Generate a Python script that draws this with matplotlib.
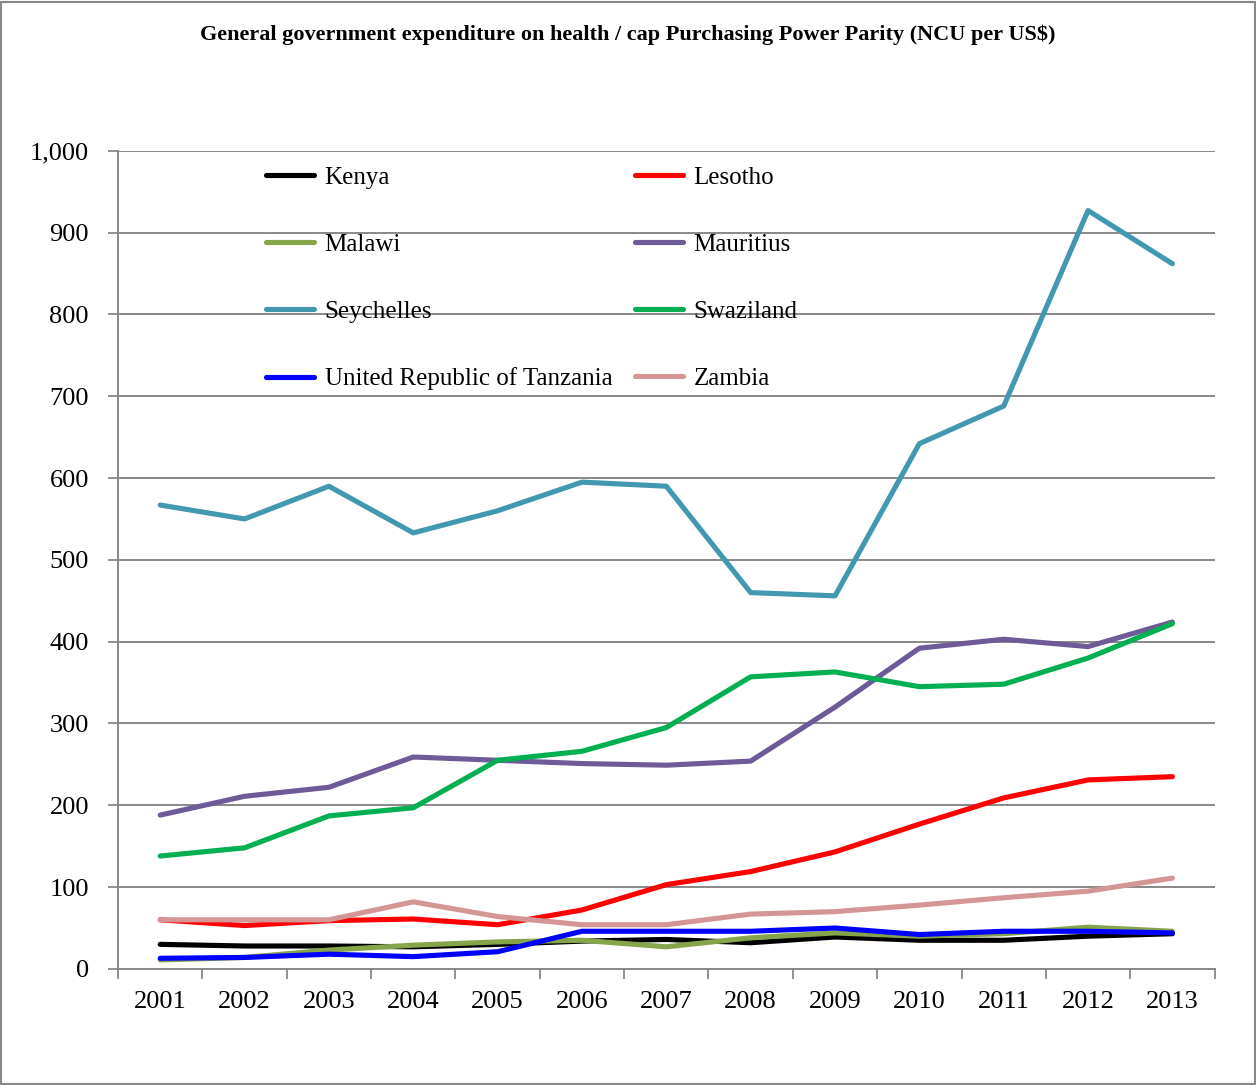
import matplotlib.pyplot as plt
from matplotlib.patches import Rectangle
from matplotlib.ticker import FuncFormatter, MultipleLocator
import numpy as np

plt.rcParams['font.family'] = ['Liberation Serif', 'DejaVu Serif']

years = [2001, 2002, 2003, 2004, 2005, 2006, 2007, 2008, 2009, 2010, 2011, 2012, 2013]

kenya = [30, 28, 28, 27, 30, 34, 36, 32, 39, 35, 35, 40, 43]
lesotho = [60, 53, 59, 61, 54, 72, 103, 119, 143, 177, 209, 231, 235]
malawi = [11, 14, 23, 29, 33, 35, 27, 38, 44, 40, 43, 51, 46]
mauritius = [188, 211, 222, 259, 255, 251, 249, 254, 320, 392, 403, 394, 424]
seychelles = [567, 550, 590, 533, 560, 595, 590, 460, 456, 642, 688, 927, 862]
swaziland = [138, 148, 187, 197, 255, 266, 295, 357, 363, 345, 348, 380, 422]
tanzania = [13, 14, 18, 15, 21, 46, 46, 46, 50, 42, 46, 46, 44]
zambia = [60, 60, 60, 82, 64, 54, 54, 67, 70, 78, 87, 95, 111]

series = [
    ('Kenya', kenya, '#000000'),
    ('Lesotho', lesotho, '#FF0000'),
    ('Malawi', malawi, '#86A44A'),
    ('Mauritius', mauritius, '#6E5A96'),
    ('Seychelles', seychelles, '#4298AF'),
    ('Swaziland', swaziland, '#00B050'),
    ('United Republic of Tanzania', tanzania, '#0000FF'),
    ('Zambia', zambia, '#D49694'),
]

fig = plt.figure(figsize=(12.56, 10.85), dpi=100)
ax = fig.add_axes([0.094, 0.107, 0.873, 0.754])

x = np.arange(len(years))
lines = {}
for name, vals, col in series:
    ln, = ax.plot(x, vals, color=col, linewidth=3.7, label=name, solid_capstyle='round')
    lines[name] = ln

ax.set_xlim(-0.5, len(years) - 0.5)
ax.set_ylim(0, 1000)
ax.yaxis.set_major_locator(MultipleLocator(100))
ax.yaxis.set_major_formatter(FuncFormatter(lambda v, p: f'{int(v):,}'))
ax.set_xticks(x)
ax.set_xticklabels([str(y) for y in years])
ax.set_xticks(np.arange(-0.5, len(years), 1), minor=True)
ax.tick_params(axis='x', which='major', length=0, pad=16, labelsize=19)
ax.tick_params(axis='x', which='minor', length=7, width=1.3, color='#888888')
ax.tick_params(axis='y', which='major', length=7, width=1.3, color='#888888', pad=14, labelsize=19)
ax.grid(axis='y', color='#888888', linewidth=1.4)
ax.set_axisbelow(True)
for s in ['top', 'right']:
    ax.spines[s].set_visible(False)
for s in ['left', 'bottom']:
    ax.spines[s].set_color('#888888')
    ax.spines[s].set_linewidth(1.4)

order = ['Kenya', 'Malawi', 'Seychelles', 'United Republic of Tanzania',
         'Lesotho', 'Mauritius', 'Swaziland', 'Zambia']
ax.legend([lines[n] for n in order], order, ncol=2, frameon=False,
          loc='upper left', bbox_to_anchor=(0.135, 0.981), fontsize=18,
          handlelength=1.9, handletextpad=0.44, columnspacing=0.92,
          labelspacing=1.78, borderaxespad=0, borderpad=0)

fig.text(0.5, 0.968, 'General government expenditure on health / cap Purchasing Power Parity (NCU per US$)',
         ha='center', va='center', fontsize=16, fontweight='bold')

fig.patches.append(Rectangle((0.001, 0.001), 0.998, 0.997, transform=fig.transFigure,
                             fill=False, edgecolor='#888888', linewidth=1.5))

fig.savefig('out.png', dpi=100, facecolor='white')
